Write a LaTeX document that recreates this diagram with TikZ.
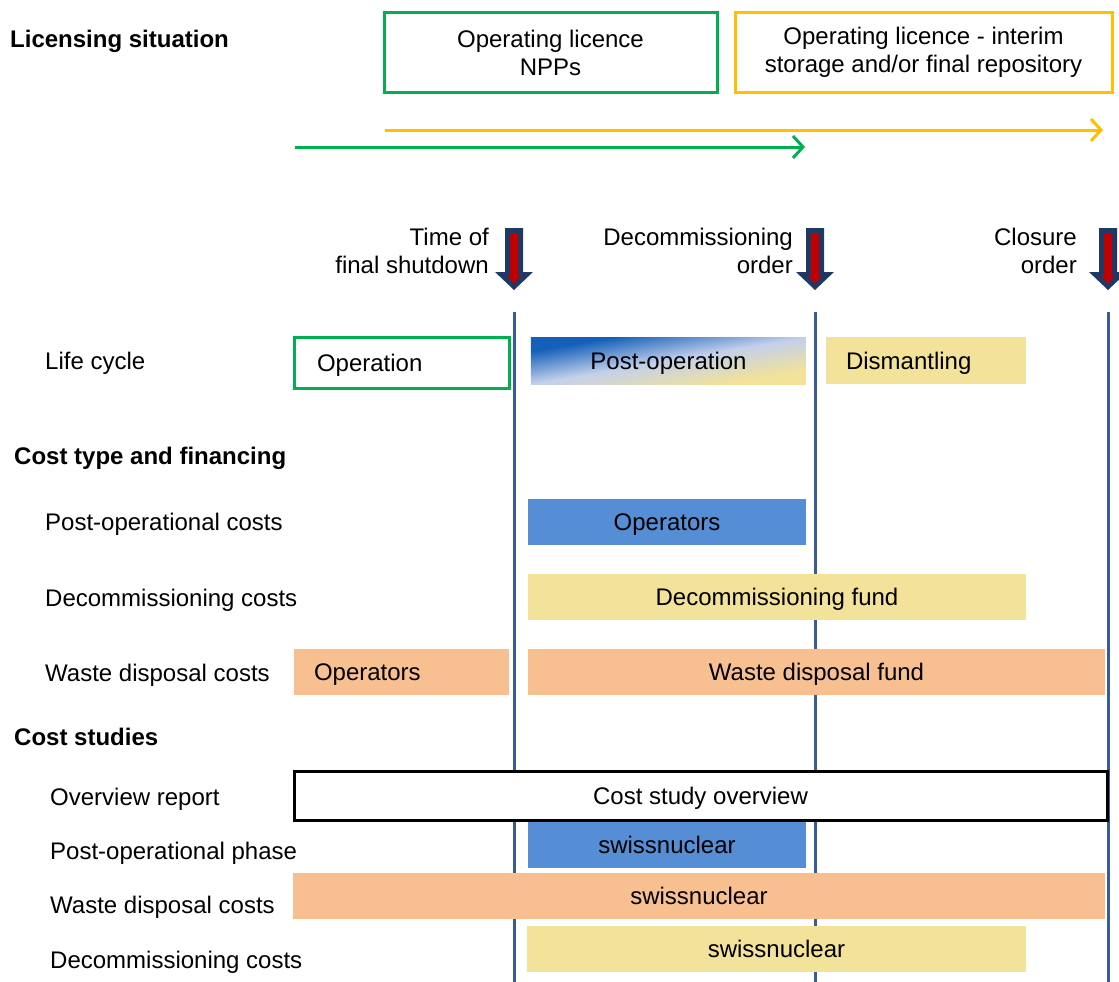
\documentclass[tikz,border=0pt]{standalone}
\usepackage{fontspec}
\setmainfont{Liberation Sans}
\usetikzlibrary{arrows.meta}

\definecolor{licgreen}{RGB}{0,176,80}
\definecolor{licyellow}{RGB}{255,192,0}
\definecolor{navy}{RGB}{31,56,100}
\definecolor{darkred}{RGB}{192,0,0}
\definecolor{phaseline}{RGB}{56,93,150}
\definecolor{opblue}{RGB}{85,142,213}
\definecolor{fundyellow}{RGB}{242,226,154}
\definecolor{wasteorange}{RGB}{248,192,144}
\definecolor{gradblue}{RGB}{20,95,185}
\definecolor{gradlight}{RGB}{195,208,235}

\tikzset{
  heading/.style={anchor=west, inner xsep=0, text height=17, text depth=0, font=\fontsize{24}{28}\selectfont\bfseries},
  rowlabel/.style={anchor=west, inner xsep=0, text height=17, text depth=0},
  licbox/.style={line width=3, minimum height=79, align=center, inner sep=0},
  bar/.style={minimum height=46, inner sep=0, text height=17, text depth=0},
  timeline/.style={line width=3, -{Straight Barb[length=10, width=22, line width=3]}},
  phase/.style={phaseline, line width=3},
  shutdown/.pic={
    \fill[navy] (-9,0) -- (9,0) -- (9,44) -- (19,44) -- (0,62) -- (-19,44) -- (-9,44) -- cycle;
    \fill[darkred] (-4,5) -- (4,5) -- (4,47) -- (7,47) -- (0,56) -- (-7,47) -- (-4,47) -- cycle;
  }
}

\begin{document}
\begin{tikzpicture}[x=1pt, y=-1pt, font=\fontsize{24}{28}\selectfont]
    \useasboundingbox (0,0) rectangle (1119,982);

    % Licensing situation
    \node[heading] (lic) at (10,39) {Licensing situation};
    \node[licbox, draw=licgreen, minimum width=333] (npp) at (550.5,52.5) {Operating licence\\NPPs};
    \node[licbox, draw=licyellow, minimum width=377] (repo) at (923.5,52.5) {Operating licence - interim\\storage and/or final repository};

    % Licence periods
    \coordinate (ystart) at (385,130);
    \coordinate (yend) at (1103,130);
    \coordinate (gstart) at (295,147);
    \coordinate (gend) at (805,147);
    \draw[timeline, licyellow] (ystart) -- (yend);
    \draw[timeline, licgreen] (gstart) -- (gend);

    % Milestones
    \pic at (514,228) {shutdown};
    \pic at (815,228) {shutdown};
    \pic at (1108,228) {shutdown};
    \node[anchor=east, align=right, inner xsep=0] (tshut) at (489,251) {Time of\\final shutdown};
    \node[anchor=east, align=right, inner xsep=0] (tdec) at (793,251) {Decommissioning\\order};
    \node[anchor=east, align=right, inner xsep=0] (tclose) at (1077,251) {Closure\\order};

    % Phase boundaries
    \coordinate (top1) at (514,312);
    \coordinate (bot1) at (514,982);
    \coordinate (top2) at (815,312);
    \coordinate (bot2) at (815,982);
    \coordinate (top3) at (1108,312);
    \coordinate (bot3) at (1108,982);
    \draw[phase] (top1) -- (bot1);
    \draw[phase] (top2) -- (bot2);
    \draw[phase] (top3) -- (bot3);

    % Life cycle
    \node[rowlabel] (life) at (45,361) {Life cycle};
    \node[draw=licgreen, line width=3, minimum height=51, inner xsep=23, inner ysep=0, text height=17, text depth=0, text width=169, align=left] (oper) at (401.5,362.5) {Operation};
    % gradient square stretched to 275 x 47
    \shade[transform canvas={xscale=275/47}, top color=gradblue, bottom color=fundyellow, middle color=gradlight, shading angle=45]
        (90.75,337) rectangle (137.75,384);
    \node[bar, minimum height=47, minimum width=275] (postop) at (668.5,360.5) {Post-operation};
    \node[bar, minimum height=47, fill=fundyellow, inner xsep=20, text width=160, align=left] (dism) at (926,360.5) {Dismantling};

    % Cost type and financing
    \node[heading] (costtype) at (14,456) {Cost type and financing};
    \node[rowlabel] (postcost) at (45,522) {Post-operational costs};
    \node[bar, fill=opblue, minimum width=278] (opers) at (667,522) {Operators};
    \node[rowlabel] (deccost) at (45,598) {Decommissioning costs};
    \node[bar, fill=fundyellow, minimum width=498] (decfund) at (777,597) {Decommissioning fund};
    \node[rowlabel] (wastecost) at (45,673) {Waste disposal costs};
    \node[bar, fill=wasteorange, inner xsep=20, text width=175, align=left] (wasteop) at (401.5,672) {Operators};
    \node[bar, fill=wasteorange, minimum width=577] (wastefund) at (816.5,672) {Waste disposal fund};

    % Cost studies
    \node[heading] (studies) at (14,737) {Cost studies};
    \node[rowlabel] (overrep) at (50,797) {Overview report};
    \node[draw=black, fill=white, line width=3, minimum width=813, minimum height=49, inner sep=0, text height=17, text depth=0] (overview) at (700.5,795.5) {Cost study overview};
    \node[rowlabel] (postphase) at (50,851) {Post-operational phase};
    \node[bar, fill=opblue, minimum width=278] (swissop) at (667,845) {swissnuclear};
    \node[rowlabel] (wastestudy) at (50,905) {Waste disposal costs};
    \node[bar, fill=wasteorange, minimum width=812] (swisswaste) at (699,896) {swissnuclear};
    \node[rowlabel] (decstudy) at (50,960) {Decommissioning costs};
    \node[bar, fill=fundyellow, minimum width=499] (swissdec) at (776.5,949) {swissnuclear};
\end{tikzpicture}
\end{document}
